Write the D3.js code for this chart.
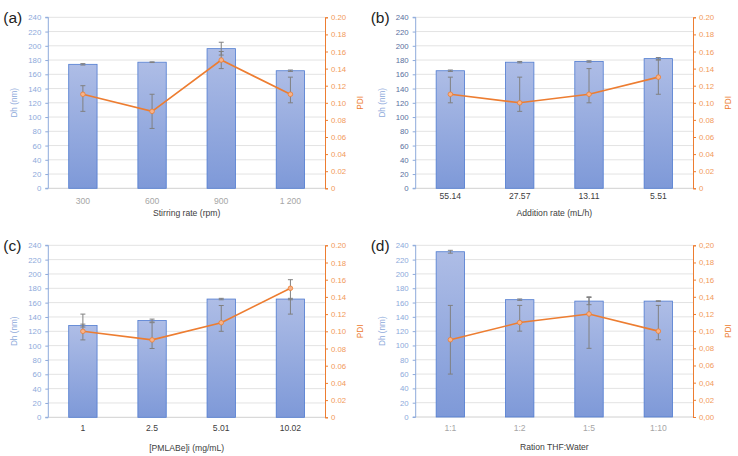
<!DOCTYPE html>
<meta charset="utf-8">
<style>
body { margin: 0; background: #fff; }
text { font-family: "Liberation Sans", Arial, sans-serif; }
</style>
<body>
<script src="https://d3js.org/d3.v7.min.js"></script>
<script>

// data

var catsA = ["300", "600", "900", "1 200"]
var dhA = [174, 177, 196, 165]
var dhErrA = [1, 0.5, 9, 1]
var pdiA = [0.11, 0.09, 0.15, 0.11]
var pdiLoA = [0.09, 0.07, 0.14, 0.10]
var pdiHiA = [0.12, 0.11, 0.16, 0.13]

var catsB = ["55.14", "27.57", "13.11", "5.51"]
var dhB = [165, 177, 178, 182]
var dhErrB = [1, 1, 1, 1.5]
var pdiB = [0.11, 0.10, 0.11, 0.13]
var pdiLoB = [0.10, 0.09, 0.10, 0.11]
var pdiHiB = [0.13, 0.13, 0.14, 0.15]

var catsC = ["1", "2.5", "5.01", "10.02"]
var dhC = [128, 135, 165, 165]
var dhErrC = [2, 2, 1, 1]
var pdiC = [0.10, 0.09, 0.11, 0.15]
var pdiLoC = [0.09, 0.08, 0.10, 0.12]
var pdiHiC = [0.12, 0.11, 0.13, 0.16]

var catsD = ["1:1", "1:2", "1:5", "1:10"]
var dhD = [231, 164, 162, 162]
var dhErrD = [2, 1, 5, 0.5]
var pdiD = [0.09, 0.11, 0.12, 0.10]
var pdiLoD = [0.05, 0.10, 0.08, 0.09]
var pdiHiD = [0.13, 0.13, 0.14, 0.13]

var dhTicks = d3.range(0, 241, 20)
var pdiTicks = d3.range(0, 11).map(function(i) { return i / 50 })

var panels = [
  {tag: "(a)", cats: catsA, dh: dhA, dhErr: dhErrA, pdi: pdiA, lo: pdiLoA, hi: pdiHiA,
   title: "Stirring rate (rpm)", x0: 48.3, x1: 325, y0: 17.3, y1: 188.3, tickY: 204, titleY: 216,
   leftCol: "#8eaadb", catCol: "#a6a6a6", comma: false},
  {tag: "(b)", cats: catsB, dh: dhB, dhErr: dhErrB, pdi: pdiB, lo: pdiLoB, hi: pdiHiB,
   title: "Addition rate (mL/h)", x0: 415.7, x1: 693, y0: 17.3, y1: 188.3, tickY: 199, titleY: 216,
   leftCol: "#5a6f9e", catCol: "#404040", comma: false},
  {tag: "(c)", cats: catsC, dh: dhC, dhErr: dhErrC, pdi: pdiC, lo: pdiLoC, hi: pdiHiC,
   title: "[PMLABe]i (mg/mL)", x0: 48.3, x1: 325, y0: 245.3, y1: 417.3, tickY: 431, titleY: 451,
   leftCol: "#8eaadb", catCol: "#404040", comma: false},
  {tag: "(d)", cats: catsD, dh: dhD, dhErr: dhErrD, pdi: pdiD, lo: pdiLoD, hi: pdiHiD,
   title: "Ration THF:Water", x0: 415.7, x1: 693, y0: 245.3, y1: 417, tickY: 431, titleY: 450,
   leftCol: "#8eaadb", catCol: "#a6a6a6", comma: true}
]

var svg = d3.select("body").append("svg")
    .attr("width", 738)
    .attr("height", 456)

var grad = svg.append("defs").append("linearGradient")
    .attr("id", "barGrad")
    .attr("x1", 0).attr("y1", 0).attr("x2", 0).attr("y2", 1)
grad.append("stop").attr("offset", "0%").attr("stop-color", "#aebde6")
grad.append("stop").attr("offset", "100%").attr("stop-color", "#7e99d8")

panels.forEach(function(p) {
  var g = svg.append("g")

  var x = d3.scaleBand()
      .domain(p.cats)
      .range([p.x0, p.x1])
      .paddingInner(0.59)
      .paddingOuter(0.295)

  var y = d3.scaleLinear().domain([0, 240]).range([p.y1, p.y0])
  var y2 = d3.scaleLinear().domain([0, 0.2]).range([p.y1, p.y0])

  // gridlines
  g.append("g").selectAll("line")
    .data(dhTicks.slice(1))
    .join("line")
      .attr("x1", p.x0).attr("x2", p.x1)
      .attr("y1", function(d) { return y(d) }).attr("y2", function(d) { return y(d) })
      .attr("stroke", "#e3e3e3")

  // baseline
  g.append("line")
      .attr("x1", p.x0).attr("x2", p.x1)
      .attr("y1", y(0)).attr("y2", y(0))
      .attr("stroke", "#d0d0d0")

  // bars
  g.append("g").selectAll("rect")
    .data(p.dh)
    .join("rect")
      .attr("x", function(d, i) { return x(p.cats[i]) })
      .attr("y", function(d) { return y(d) })
      .attr("width", x.bandwidth())
      .attr("height", function(d) { return y(0) - y(d) })
      .attr("fill", "url(#barGrad)")
      .attr("stroke", "#4f7bd0")
      .attr("stroke-width", 0.8)

  var cx = function(i) { return x(p.cats[i]) + x.bandwidth() / 2 }

  // Dh error bars
  var eb = g.append("g").attr("stroke", "#808080").attr("stroke-width", 1)
  p.dh.forEach(function(d, i) {
    var t = y(d + p.dhErr[i]), b = y(d - p.dhErr[i])
    eb.append("line").attr("x1", cx(i)).attr("x2", cx(i)).attr("y1", t).attr("y2", b)
    eb.append("line").attr("x1", cx(i) - 2.5).attr("x2", cx(i) + 2.5).attr("y1", t).attr("y2", t)
    eb.append("line").attr("x1", cx(i) - 2.5).attr("x2", cx(i) + 2.5).attr("y1", b).attr("y2", b)
  })

  // PDI error bars
  p.pdi.forEach(function(d, i) {
    var t = y2(p.hi[i]), b = y2(p.lo[i])
    eb.append("line").attr("x1", cx(i)).attr("x2", cx(i)).attr("y1", t).attr("y2", b)
    eb.append("line").attr("x1", cx(i) - 2.5).attr("x2", cx(i) + 2.5).attr("y1", t).attr("y2", t)
    eb.append("line").attr("x1", cx(i) - 2.5).attr("x2", cx(i) + 2.5).attr("y1", b).attr("y2", b)
  })

  // PDI line
  g.append("path")
      .datum(p.pdi)
      .attr("fill", "none")
      .attr("stroke", "#ed7d31")
      .attr("stroke-width", 1.6)
      .attr("d", d3.line().x(function(d, i) { return cx(i) }).y(function(d) { return y2(d) }))

  g.append("g").selectAll("circle")
    .data(p.pdi)
    .join("circle")
      .attr("cx", function(d, i) { return cx(i) })
      .attr("cy", function(d) { return y2(d) })
      .attr("r", 2.3)
      .attr("fill", "#f7b38a")
      .attr("stroke", "#ed7d31")
      .attr("stroke-width", 0.8)

  // left axis
  var la = g.append("g")
      .attr("transform", "translate(" + p.x0 + ",0)")
      .call(d3.axisLeft(y).tickValues(dhTicks).tickSize(3).tickPadding(4))
  la.select(".domain").attr("stroke", "#8eaadb").attr("d", "M-3," + p.y1 + "H0V" + p.y0 + "H-3")
  la.selectAll(".tick line").attr("stroke", "#8eaadb")
  la.selectAll("text").attr("fill", p.leftCol).style("font-size", "7.8px")

  // right axis
  var fmt = function(d) {
    if (p.comma) return d3.format(".2f")(d).replace(".", ",")
    return d === 0 ? "0" : d3.format(".2f")(d)
  }
  var ra = g.append("g")
      .attr("transform", "translate(" + p.x1 + ",0)")
      .call(d3.axisRight(y2).tickValues(pdiTicks).tickFormat(fmt).tickSize(3).tickPadding(3))
  ra.select(".domain").attr("stroke", "#ed7d31")
  ra.selectAll(".tick line").attr("stroke", "#ed7d31")
  ra.selectAll("text").attr("fill", "#f29a5a").style("font-size", "7.8px")

  // category labels
  g.append("g").selectAll("text")
    .data(p.cats)
    .join("text")
      .attr("x", function(d) { return x(d) + x.bandwidth() / 2 })
      .attr("y", p.tickY)
      .attr("text-anchor", "middle")
      .attr("fill", p.catCol)
      .style("font-size", "8.6px")
      .text(function(d) { return d })

  g.append("text")
      .attr("x", (p.x0 + p.x1) / 2)
      .attr("y", p.titleY)
      .attr("text-anchor", "middle")
      .attr("fill", "#404040")
      .style("font-size", "8.6px")
      .text(p.title)

  g.append("text")
      .attr("transform", "translate(" + (p.x0 - 31) + "," + ((p.y0 + p.y1) / 2) + ") rotate(-90)")
      .attr("text-anchor", "middle")
      .attr("fill", "#8eaadb")
      .style("font-size", "8.2px")
      .text("Dh (nm)")

  g.append("text")
      .attr("transform", "translate(" + (p.x1 + 38) + "," + ((p.y0 + p.y1) / 2) + ") rotate(-90)")
      .attr("text-anchor", "middle")
      .attr("fill", "#ed7d31")
      .style("font-size", "8.2px")
      .text("PDI")

  g.append("text")
      .attr("x", p.x0 - 45)
      .attr("y", p.y0 + 5.5)
      .attr("fill", "#222")
      .style("font-size", "15.5px")
      .text(p.tag)
})

</script>
